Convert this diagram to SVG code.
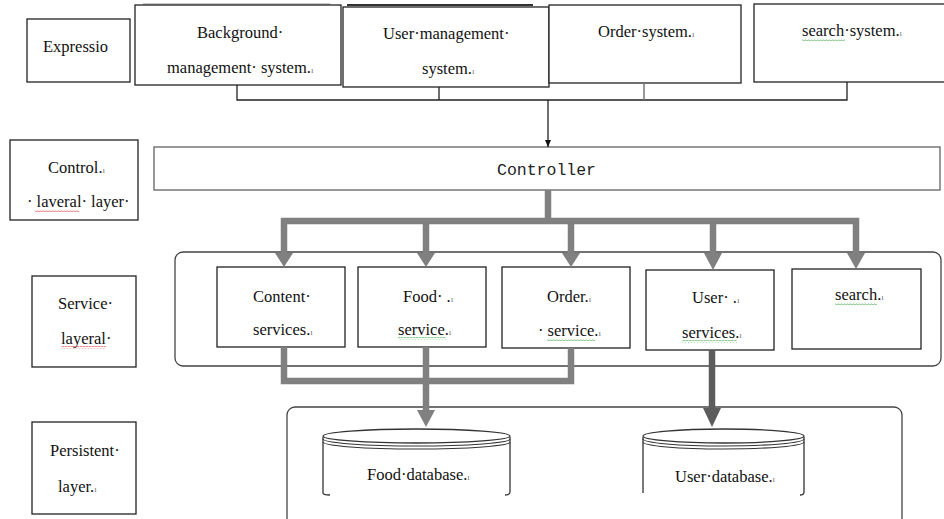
<svg xmlns="http://www.w3.org/2000/svg" width="944" height="519" viewBox="0 0 944 519">
<style>
.box{fill:#fff;stroke:#222;stroke-width:1.3}
.t{font-family:"Liberation Serif","Times New Roman","DejaVu Serif",serif;font-size:16.5px;fill:#111}
.pm{font-size:9px;fill:#777}
.mono{font-family:"Liberation Mono","Courier New","DejaVu Sans Mono",monospace;font-size:16.5px;fill:#222}
.thin{fill:none;stroke:#222;stroke-width:1.3}
.thick{fill:none;stroke:#808080;stroke-width:6.5}
.dark{fill:none;stroke:#5c5c5c;stroke-width:6.5}
.cyl{fill:#fff;stroke:#333;stroke-width:1.3}
.arc{fill:none;stroke:#333;stroke-width:1.1}
.wr{fill:url(#waveR)}
.wg{fill:url(#waveG)}
</style>
<defs>
<pattern id="waveR" width="3" height="3" patternUnits="userSpaceOnUse"><path d="M0,2.3 L1.5,0.7 L3,2.3" fill="none" stroke="#e04a4a" stroke-width="0.8"/></pattern>
<pattern id="waveG" width="3" height="3" patternUnits="userSpaceOnUse"><path d="M0,2.3 L1.5,0.7 L3,2.3" fill="none" stroke="#4caf50" stroke-width="0.8"/></pattern>
<marker id="ah" markerWidth="8" markerHeight="8" refX="7" refY="4" orient="auto" markerUnits="userSpaceOnUse"><path d="M0,1 L7,4 L0,7 Z" fill="#111"/></marker>
</defs>
<rect width="944" height="519" fill="#fff"/>

<g id="service-container"><rect x="175" y="252" width="766" height="114" rx="8" fill="none" stroke="#444" stroke-width="1.3"/></g>
<g id="persistent-container"><rect x="287" y="407" width="615" height="120" rx="8" fill="none" stroke="#444" stroke-width="1.3"/></g>

<g id="label-expression"><rect class="box" x="27" y="19" width="103" height="63"/><text class="t" x="43" y="52">Expressio</text></g>
<g id="label-control"><rect class="box" x="10" y="140" width="128" height="80"/><text class="t" x="48" y="173">Control.<tspan class="pm">ı</tspan></text><text class="t" x="27" y="207">· laveral· layer·</text><rect class="wr" x="35" y="209" width="44" height="3"/></g>
<g id="label-service"><rect class="box" x="32" y="276" width="104" height="91"/><text class="t" x="58" y="309">Service·</text><text class="t" x="61" y="344">layeral·</text><rect class="wr" x="61" y="346" width="45" height="3"/></g>
<g id="label-persistent"><rect class="box" x="32" y="422" width="104" height="92"/><text class="t" x="50" y="456">Persistent·</text><text class="t" x="58" y="492">layer.<tspan class="pm">ı</tspan></text></g>

<g id="background-management"><line x1="143" y1="4" x2="330" y2="4" stroke="#999" stroke-width="1"/><rect class="box" x="135" y="5" width="206" height="80"/><text class="t" x="197" y="38">Background·</text><text class="t" x="167" y="73">management· system.<tspan class="pm">ı</tspan></text></g>
<g id="user-management"><line x1="347" y1="5" x2="533" y2="5" stroke="#333" stroke-width="2"/><rect class="box" x="343" y="7" width="206" height="80"/><text class="t" x="383" y="39">User·management·</text><text class="t" x="422" y="74">system.<tspan class="pm">ı</tspan></text></g>
<g id="order-system"><rect class="box" x="549" y="5" width="192" height="78"/><text class="t" x="598" y="37">Order·system.<tspan class="pm">ı</tspan></text></g>
<g id="search-system"><rect class="box" x="754" y="4" width="196" height="78"/><text class="t" x="802" y="36">search·system.<tspan class="pm">ı</tspan></text><rect class="wg" x="802" y="38" width="43" height="3"/></g>

<g id="controller"><rect x="154" y="147" width="786" height="43" fill="#fff" stroke="#777" stroke-width="1.5"/><text class="mono" x="497" y="175">Controller</text></g>

<g id="content-services"><rect class="box" x="217" y="267" width="128" height="80"/><text class="t" x="253" y="302">Content·</text><text class="t" x="253" y="335">services.<tspan class="pm">ı</tspan></text></g>
<g id="food-service"><rect class="box" x="358" y="267" width="128" height="80"/><text class="t" x="403" y="302">Food· .<tspan class="pm">ı</tspan></text><text class="t" x="398" y="335">service.<tspan class="pm">ı</tspan></text><rect class="wg" x="398" y="337" width="48" height="3"/></g>
<g id="order-service"><rect class="box" x="502" y="267" width="128" height="81"/><text class="t" x="547" y="302">Order.<tspan class="pm">ı</tspan></text><text class="t" x="538" y="336">· service.<tspan class="pm">ı</tspan></text><rect class="wg" x="547" y="338" width="48" height="3"/></g>
<g id="user-services"><rect class="box" x="646" y="270" width="128" height="80"/><text class="t" x="692" y="303">User· .<tspan class="pm">ı</tspan></text><text class="t" x="682" y="338">services.<tspan class="pm">ı</tspan></text><rect class="wg" x="682" y="340" width="55" height="3"/></g>
<g id="search-service"><rect class="box" x="792" y="269" width="129" height="80"/><text class="t" x="835" y="300">search.<tspan class="pm">ı</tspan></text><rect class="wg" x="835" y="302" width="42" height="3"/></g>

<g id="food-database">
<path class="cyl" d="M323,437 L323,493 Q323,495 330,495 M510,437 L510,492 Q510,495 505,495"/>
<ellipse cx="416.5" cy="436" rx="93.5" ry="7" fill="#fff" stroke="#333" stroke-width="1.3"/>
<path class="arc" d="M323,439 A93.5,7 0 0 0 510,439 M323,442 A93.5,7 0 0 0 510,442"/>
<text class="t" x="367" y="480">Food·database.<tspan class="pm">ı</tspan></text>
</g>
<g id="user-database">
<path class="cyl" d="M643,437 L643,493 M804,437 L804,492 Q804,495 800,495"/>
<ellipse cx="723.5" cy="436" rx="80.5" ry="7" fill="#fff" stroke="#333" stroke-width="1.3"/>
<path class="arc" d="M643,439 A80.5,7 0 0 0 804,439 M643,442 A80.5,7 0 0 0 804,442"/>
<text class="t" x="675" y="482">User·database.<tspan class="pm">ı</tspan></text>
</g>

<g id="connectors">
<path class="thin" d="M237,85 L237,100 L847,100 L847,82 M439,87 L439,100"/>
<line x1="644" y1="83" x2="644" y2="100" stroke="#777" stroke-width="1.5"/>
<line x1="548" y1="100" x2="548" y2="147" stroke="#111" stroke-width="1.2" marker-end="url(#ah)"/>
<path class="thick" d="M548,190 L548,221 M284,254 L284,221 L856,221 L856,254 M426,221 L426,254 M571,221 L571,254 M713,221 L713,254"/>
<g fill="#808080">
<path d="M275,253 L293,253 L284,267 Z"/>
<path d="M417,253 L435,253 L426,267 Z"/>
<path d="M562,253 L580,253 L571,267 Z"/>
<path d="M704,253 L722,253 L713,270 Z"/>
<path d="M847,253 L865,253 L856,269 Z"/>
<path d="M417,410 L435,410 L426,427 Z"/>
</g>
<path class="thick" d="M284,347 L284,381 L571,381 L571,348 M426,347 L426,411"/>
<path class="dark" d="M712,350 L712,409"/>
<path d="M703,408 L721,408 L712,427 Z" fill="#5c5c5c"/>
</g>
</svg>
